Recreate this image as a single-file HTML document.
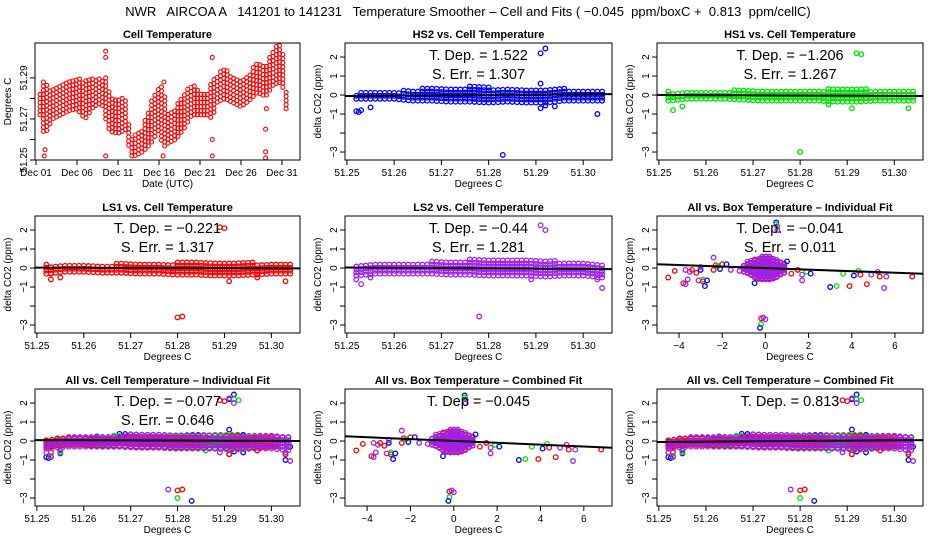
<!DOCTYPE html>
<html><head><meta charset="utf-8"><style>
body{margin:0;background:#fff;}
svg{display:block;font-family:"Liberation Sans",sans-serif;}
</style></head><body>
<svg id="c" width="936" height="540" viewBox="0 0 936 540">
<rect width="936" height="540" fill="#fff"/>
<text x="468" y="16" text-anchor="middle" font-size="13" xml:space="preserve">NWR   AIRCOA A   141201 to 141231   Temperature Smoother – Cell and Fits ( −0.045  ppm/boxC +  0.813  ppm/cellC)</text>
</svg>
<script>
// ---------- data ----------
const cellDays = [1.5,2,2.5,3,4,5,6,7,8,9,9.5,10,11,12,12.5,13,14,15,16,16.5,17,18,19,20,21,22,22.5,23,24,25,26,27,28,29,30,31,31.5];
const cellLow  = [51.272,51.262,51.266,51.270,51.272,51.274,51.275,51.270,51.276,51.278,51.270,51.264,51.263,51.265,51.252,51.252,51.254,51.258,51.265,51.256,51.258,51.260,51.265,51.272,51.272,51.272,51.270,51.278,51.280,51.278,51.276,51.279,51.283,51.281,51.287,51.288,51.275];
const cellHigh = [51.282,51.290,51.284,51.285,51.287,51.288,51.290,51.289,51.291,51.289,51.290,51.282,51.280,51.280,51.260,51.262,51.266,51.278,51.285,51.287,51.272,51.276,51.282,51.287,51.284,51.283,51.291,51.291,51.295,51.291,51.289,51.292,51.299,51.295,51.305,51.306,51.284];
const cellOutliers = [[2,51.252],[2.1,51.255],[9.5,51.303],[9.5,51.300],[9.5,51.252],[16.5,51.252],[16.6,51.288],[22.5,51.300],[22.5,51.260],[22.5,51.252],[29,51.251],[29,51.254],[29,51.265],[29.1,51.275]];
const seriesNames = ["HS2","HS1","LS1","LS2"];
const seriesColors = ["#0000ff","#00e000","#ff0000","#a020f0"];
const gridX = [51.252,51.256,51.260,51.264,51.268,51.272,51.276,51.280,51.284,51.288,51.292,51.296,51.300,51.304];
const hs2Low  = [-0.2,-0.2,-0.2,-0.3,-0.3,-0.35,-0.35,-0.4,-0.35,-0.4,-0.4,-0.3,-0.3,-0.3];
const hs2High = [0.1,0.2,0.2,0.3,0.4,0.4,0.45,0.4,0.4,0.35,0.35,0.35,0.3,0.2];
const hs1Low  = [-0.3,-0.2,-0.2,-0.2,-0.25,-0.3,-0.3,-0.3,-0.3,-0.35,-0.35,-0.3,-0.3,-0.3];
const hs1High = [0.2,0.2,0.2,0.25,0.3,0.3,0.3,0.3,0.3,0.35,0.35,0.3,0.3,0.2];
const ls1Low  = [-0.3,-0.2,-0.2,-0.25,-0.25,-0.3,-0.3,-0.35,-0.35,-0.4,-0.4,-0.35,-0.3,-0.3];
const ls1High = [0.2,0.2,0.2,0.2,0.25,0.3,0.3,0.3,0.3,0.35,0.3,0.3,0.25,0.2];
const ls2Low  = [-0.4,-0.3,-0.3,-0.3,-0.3,-0.35,-0.35,-0.4,-0.4,-0.4,-0.45,-0.4,-0.4,-0.5];
const ls2High = [0.1,0.2,0.25,0.3,0.35,0.4,0.45,0.45,0.4,0.4,0.4,0.35,0.3,0.2];
const hs2Out = [[51.252,-0.85],[51.2525,-0.9],[51.253,-0.8],[51.255,-0.65],[51.283,-3.15],[51.291,2.2],[51.292,2.45],[51.291,0.6],[51.291,-0.7],[51.294,-0.6],[51.303,-1.0],[51.304,-0.3],[51.292,-0.55]];
const hs1Out = [[51.253,-0.8],[51.255,-0.6],[51.280,-3.0],[51.292,2.2],[51.293,2.15],[51.291,-0.7],[51.286,-0.5],[51.303,-0.7]];
const ls1Out = [[51.253,-0.6],[51.253,-0.3],[51.255,-0.5],[51.280,-2.6],[51.281,-2.55],[51.289,2.15],[51.290,2.1],[51.291,-0.7],[51.303,-0.7],[51.297,-0.5]];
const ls2Out = [[51.252,-0.6],[51.253,-0.85],[51.255,-0.5],[51.278,-2.55],[51.291,2.25],[51.292,2.0],[51.304,-1.05],[51.303,-0.6],[51.289,-0.6]];
const boxGrid = [-1,-0.75,-0.5,-0.25,0,0.25,0.5,0.75,1];
const boxLow  = [-0.2,-0.3,-0.5,-0.6,-0.6,-0.6,-0.5,-0.3,-0.2];
const boxHigh = [0.2,0.4,0.5,0.6,0.7,0.6,0.5,0.3,0.2];
const boxPoints = [[-4.5,-0.5,2],[-4.2,-0.15,2],[-3.8,-0.8,2],[-3.7,-0.85,3],[-3.6,-0.6,3],[-3.7,-0.1,3],[-3.5,-0.2,3],[-3.4,-0.1,2],[-3.2,-0.25,2],[-3.0,-0.1,0],[-3.0,0.05,3],[-3.1,-0.65,3],[-2.9,-0.6,1],[-2.9,-0.7,2],[-2.8,-0.95,0],[-2.7,-0.65,0],[-2.4,0.55,3],[-2.4,-0.1,2],[-2.3,0.15,2],[-2.2,0.1,1],[-2.0,0.2,2],[-2.1,-0.05,0],[-1.8,0.2,0],[-1.6,-0.1,3],[-1.2,-0.15,3],[-0.5,-0.8,0],[1.0,0.35,0],[1.2,-0.3,2],[1.5,-0.1,2],[1.7,-0.35,3],[1.7,-0.65,3],[1.9,-0.2,1],[2.1,-0.3,0],[3.0,-1.0,0],[3.3,-0.95,1],[3.6,-0.3,1],[3.9,-0.95,2],[4.1,-0.4,0],[4.3,-0.15,1],[4.4,-0.35,2],[4.7,-0.85,2],[4.9,-0.35,3],[5.2,-0.2,3],[5.3,-0.45,2],[5.5,-1.05,3],[5.6,-0.45,3],[6.8,-0.45,2],[0.5,2.4,0],[0.55,2.2,3],[0.55,2.0,3],[0.5,2.3,1],[-0.2,-2.65,2],[-0.1,-2.6,3],[-0.2,-2.95,1],[-0.25,-3.15,0],[0.0,-2.7,3]];
const fitStart = [-0.05,0.0,0.02,0.03,0.2,0.05,0.25,-0.05];
const fitEnd   = [0.05,-0.05,-0.02,-0.06,-0.3,0.0,-0.35,0.05];
const depLabels = ["1.522","-1.206","-0.221","-0.44","-0.041","-0.077","-0.045","0.813"];
const errLabels = ["1.307","1.267","1.317","1.281","0.011","0.646","",""];
const dayTicks = [1,6,11,16,21,26,31];
const cellTicks = [51.25,51.26,51.27,51.28,51.29,51.30];
const boxTicks = [-4,-2,0,2,4,6];
const deltaTicks = [2,1,0,-1,-2,-3];

// ---------- drawing ----------
const svg = document.getElementById('c');
const NS = 'http://www.w3.org/2000/svg';
function mk(tag, attrs, parent){const e=document.createElementNS(NS,tag);for(const k in attrs)e.setAttribute(k,attrs[k]);(parent||svg).appendChild(e);return e;}
const colL=[35,345,657], colW=[265,267,266], rowT=[43,216,389], H=117;
function panel(r,c,title,name){
  const g=mk('g',{});
  
  
  const L=colL[c],T=rowT[r],W=colW[c];
  const t=mk('text',{x:L+W/2,y:T-5,'text-anchor':'middle','font-size':11,'font-weight':'bold'},g);t.textContent=title;
  
  
  return {g,L,T,W,R:L+W,B:T+H};
}
function box(p){const b=mk('rect',{x:p.L,y:p.T,width:p.W,height:H,fill:'none',stroke:'#000','stroke-width':1},p.g);
  
  }
function xAxis(p,ticks,sx,fmt,label){
  const ax=mk('g',{},p.g);
  
  
  mk('line',{x1:sx(ticks[0]),x2:sx(ticks[ticks.length-1]),y1:p.B,y2:p.B,stroke:'#000'},ax);
  ticks.forEach(v=>{const x=sx(v);mk('line',{x1:x,x2:x,y1:p.B,y2:p.B+5,stroke:'#000'},ax);
    const t=mk('text',{x:x,y:p.B+16,'text-anchor':'middle','font-size':10},ax);t.textContent=fmt(v);
    
    });
  const lt=mk('text',{x:p.L+p.W/2,y:p.B+27,'text-anchor':'middle','font-size':10},ax);lt.textContent=label;
  
  
}
function yAxis(p,ticks,sy,labelled,fmt,label){
  const ax=mk('g',{},p.g);
  
  
  mk('line',{x1:p.L,x2:p.L,y1:sy(ticks[0]),y2:sy(ticks[ticks.length-1]),stroke:'#000'},ax);
  ticks.forEach(v=>{const y=sy(v);mk('line',{x1:p.L-5,x2:p.L,y1:y,y2:y,stroke:'#000'},ax);
    if(labelled(v)){const t=mk('text',{x:p.L-8,y:y,'text-anchor':'middle','font-size':10,transform:`rotate(-90 ${p.L-8} ${y})`},ax);t.textContent=fmt(v);
      
      }});
  const yc=p.T+H/2;
  const lt=mk('text',{x:p.L-24,y:yc,'text-anchor':'middle','font-size':10,transform:`rotate(-90 ${p.L-24} ${yc})`},ax);lt.textContent=label;
  
  
}
function pt(g,x,y,col){const e=mk('circle',{cx:x.toFixed(1),cy:y.toFixed(1),r:2.3,fill:'none',stroke:col,'stroke-width':1.3},g);return e;}
function interp(xs,ys,x){if(x<=xs[0])return ys[0];for(let i=1;i<xs.length;i++){if(x<=xs[i]){const f=(x-xs[i-1])/(xs[i]-xs[i-1]);return ys[i-1]+f*(ys[i]-ys[i-1]);}}return ys[ys.length-1];}
function bandPts(g,xs,lo,hi,sx,sy,col,stepX,stepY){
  for(let x=xs[0];x<=xs[xs.length-1]+1e-9;x+=stepX){
    const a=interp(xs,lo,x),b=interp(xs,hi,x);
    for(let y=a;y<=b+1e-9;y+=stepY){const e=pt(g,sx(x),sy(y),col);}
  }
}
function fitLine(p,sx,sy,x0,x1,i){
  const l=mk('line',{x1:sx(x0),x2:sx(x1),y1:sy(fitStart[i]),y2:sy(fitEnd[i]),stroke:'#000','stroke-width':2},p.g);
  
  
}
function stats(p,i){
  const cx=p.L+p.W/2;
  const t=mk('text',{x:cx,y:p.T+17,'text-anchor':'middle','font-size':14.5},p.g);
  t.textContent=(i===6?'T. Dep = ':'T. Dep. = ')+depLabels[i].replace('-','−');
  
  
  if(errLabels[i]){const s=mk('text',{x:cx,y:p.T+36,'text-anchor':'middle','font-size':14.5},p.g);s.textContent='S. Err. = '+errLabels[i];
    
    }
}
const dYmin=-3.42,dYmax=2.74;
function dsy(p){return v=>p.B-(v-dYmin)/(dYmax-dYmin)*H;}
const cXmin=51.2496,cXmax=51.3061, bXmin=-5.02,bXmax=7.3;
function csx(p){return v=>p.L+(v-cXmin)/(cXmax-cXmin)*p.W;}
function bsx(p){return v=>p.L+(v-bXmin)/(bXmax-bXmin)*p.W;}
const lows=[hs2Low,hs1Low,ls1Low,ls2Low], highs=[hs2High,hs1High,ls1High,ls2High], outs=[hs2Out,hs1Out,ls1Out,ls2Out];

// Panel 1: cell temperature time series
{
  const p=panel(0,0,'Cell Temperature','cell-temperature-panel');
  const sx=v=>p.L+1+(v-1)*8.2, sy=v=>p.B-(v-51.25)/(0.057)*H;
  const g=mk('g',{},p.g);
  
  
  bandPts(g,cellDays,cellLow,cellHigh,sx,sy,'#ff0000',0.4,0.002);
  cellOutliers.forEach(o=>{const e=pt(g,sx(o[0]),sy(o[1]),'#ff0000');});
  [...g.children].forEach(e=>{e.setAttribute('stroke-width',1.1);e.setAttribute('r',2);});
  box(p);
  xAxis(p,dayTicks,sx,v=>'Dec '+String(v).padStart(2,'0'),'Date (UTC)');
  yAxis(p,[51.25,51.26,51.27,51.28,51.29],sy,v=>[51.25,51.27,51.29].some(t=>Math.abs(t-v)<1e-6),v=>v.toFixed(2),'Degrees C');
}
// Panels 2-5: individual series vs cell temperature
const singles=[[0,1,0],[0,2,1],[1,0,2],[1,1,3]];
singles.forEach(([r,c,s])=>{
  const p=panel(r,c,seriesNames[s]+' vs. Cell Temperature',seriesNames[s].toLowerCase()+'-vs-cell-panel');
  const sx=csx(p),sy=dsy(p);
  const g=mk('g',{},p.g);
  
  
  bandPts(g,gridX,lows[s],highs[s],sx,sy,seriesColors[s],0.001,0.16);
  outs[s].forEach(o=>{const e=pt(g,sx(o[0]),sy(o[1]),seriesColors[s]);});
  fitLine(p,sx,sy,cXmin,cXmax,s);
  box(p);
  xAxis(p,cellTicks,sx,v=>v.toFixed(2),'Degrees C');
  yAxis(p,deltaTicks,sy,v=>v!==-2,v=>String(v).replace('-','−'),'delta CO2 (ppm)');
  stats(p,s);
});
// Box temperature panels (6 and 8)
[[1,2,'All vs. Box Temperature – Individual Fit',4,'box-individual-panel'],[2,1,'All vs. Box Temperature – Combined Fit',6,'box-combined-panel']].forEach(([r,c,title,i,name])=>{
  const p=panel(r,c,title,name);
  const sx=bsx(p),sy=dsy(p);
  const g=mk('g',{},p.g);
  
  
  for(let s=0;s<4;s++){
    const lo=boxLow.map(v=>v*(s===3?1:0.9)), hi=boxHigh.map(v=>v*(s===3?1:0.9));
    bandPts(g,boxGrid,lo,hi,sx,sy,seriesColors[s],0.17,0.15);
  }
  boxPoints.forEach(o=>{const e=pt(g,sx(o[0]),sy(o[1]),seriesColors[o[2]]);});
  fitLine(p,sx,sy,bXmin,bXmax,i);
  box(p);
  xAxis(p,boxTicks,sx,v=>String(v).replace('-','−'),'Degrees C');
  yAxis(p,deltaTicks,sy,v=>v!==-2,v=>String(v).replace('-','−'),'delta CO2 (ppm)');
  stats(p,i);
});
// Combined cell temperature panels (7 and 9)
[[2,0,'All vs. Cell Temperature – Individual Fit',5,'cell-individual-panel'],[2,2,'All vs. Cell Temperature – Combined Fit',7,'cell-combined-panel']].forEach(([r,c,title,i,name])=>{
  const p=panel(r,c,title,name);
  const sx=csx(p),sy=dsy(p);
  const g=mk('g',{},p.g);
  
  
  for(let s=0;s<4;s++){
    bandPts(g,gridX,lows[s],highs[s],sx,sy,seriesColors[s],0.0012,0.17);
    outs[s].forEach(o=>{const e=pt(g,sx(o[0]),sy(o[1]),seriesColors[s]);});
  }
  fitLine(p,sx,sy,cXmin,cXmax,i);
  box(p);
  xAxis(p,cellTicks,sx,v=>v.toFixed(2),'Degrees C');
  yAxis(p,deltaTicks,sy,v=>v!==-2,v=>String(v).replace('-','−'),'delta CO2 (ppm)');
  stats(p,i);
});
</script>
</body></html>
